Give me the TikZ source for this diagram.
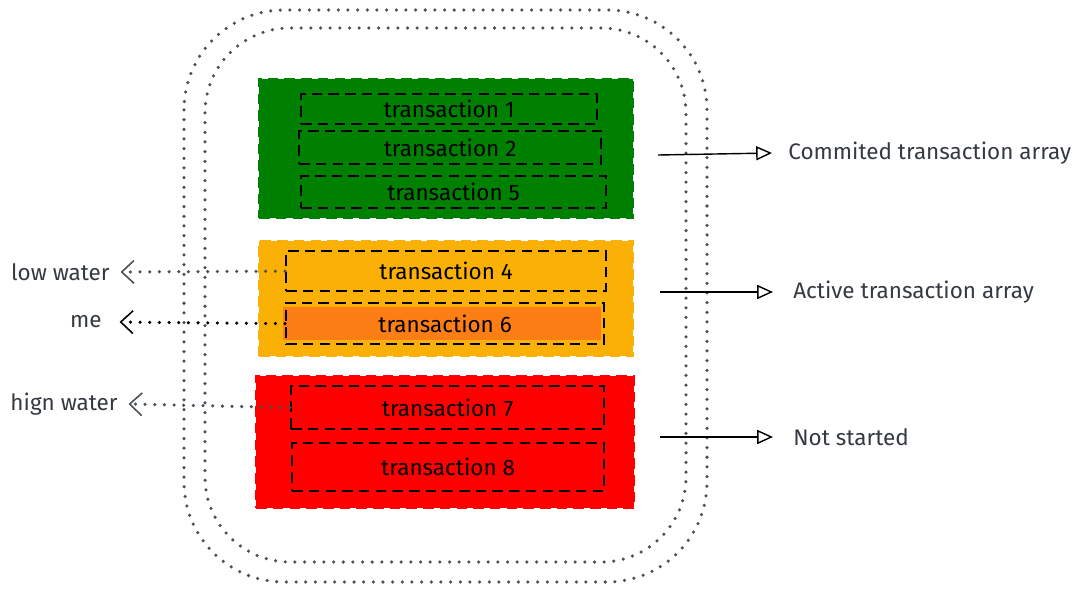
\documentclass[tikz,border=0pt]{standalone}
\usepackage{fontspec}
\setmainfont{Fira Sans}
\usetikzlibrary{arrows.meta,positioning}
\definecolor{commitG}{HTML}{008000}
\definecolor{activeY}{HTML}{FAB005}
\definecolor{meO}{HTML}{FD7E14}
\definecolor{waitR}{HTML}{FF0000}
\definecolor{bound}{HTML}{495057}
\definecolor{labtxt}{HTML}{343A40}
\begin{document}
\begin{tikzpicture}[x=0.02cm,y=-0.02cm,font=\fontsize{12.8pt}{15pt}\selectfont,
 dots/.style={line width=2pt,dash pattern=on 0pt off 5.5pt,line cap=round},
 group/.style={draw,dash pattern=on 6pt off 3.5pt,line width=1.4pt,anchor=north west,inner sep=0pt},
 txn/.style={draw=black,dash pattern=on 6pt off 3.5pt,line width=1.3pt,anchor=north west,inner sep=0pt,text=black},
 tag/.style={text=labtxt,anchor=west,inner sep=0pt},
 toarr/.style={-{Triangle[open,length=9pt,width=8pt]},thick,black},
 waterarr/.style={-{Straight Barb[length=7pt,width=13pt,line width=0.9pt]},dots}]
\useasboundingbox (0,0) rectangle (1080,592);
\draw[bound,dots,rounded corners=2cm] (184,10) rectangle (707,582);
\draw[bound,dots,rounded corners=1.7cm] (205,28) rectangle (686,562);
\node[group,draw=commitG,fill=commitG,minimum width=374*0.02cm,minimum height=139*0.02cm] (commit) at (258,78) {};
\node[group,draw=activeY,fill=activeY,minimum width=374*0.02cm,minimum height=115*0.02cm] (active) at (258,240) {};
\node[group,draw=waitR,fill=waitR,minimum width=378*0.02cm,minimum height=132*0.02cm] (wait) at (255,375) {};
\node[txn,minimum width=296*0.02cm,minimum height=30*0.02cm] (t1) at (300,93) {transaction 1};
\node[txn,minimum width=302*0.02cm,minimum height=33*0.02cm] (t2) at (298,130) {transaction 2};
\node[txn,minimum width=305*0.02cm,minimum height=32*0.02cm] (t5) at (300,175) {transaction 5};
\node[txn,minimum width=320*0.02cm,minimum height=40*0.02cm] (t4) at (285,250) {transaction 4};
\fill[meO] (283,307) rectangle (601,340);
\node[txn,minimum width=318*0.02cm,minimum height=41*0.02cm] (t6) at (285,302) {transaction 6};
\node[txn,minimum width=313*0.02cm,minimum height=43*0.02cm] (t7) at (290,385) {transaction 7};
\node[txn,minimum width=312*0.02cm,minimum height=48*0.02cm] (t8) at (291,442) {transaction 8};
\node[tag] (lcommit) at (788,153) {Commited transaction array};
\node[tag] (lactive) at (793,292) {Active transaction array};
\node[tag] (lwait) at (793,437) {Not started};
\coordinate (ocommit) at (658,155);
\coordinate (oactive) at (660,292);
\coordinate (owait) at (660,437);
\draw[toarr] (ocommit) -- ([xshift=-0.32cm]lcommit.west);
\draw[toarr] (oactive) -- ([xshift=-0.4cm]lactive.west);
\draw[toarr] (owait) -- ([xshift=-0.4cm]lwait.west);
\node[tag,anchor=east] (low) at (110,272) {low water};
\node[tag,anchor=east] (me) at (102,322) {me};
\node[tag,anchor=east] (high) at (118,404) {hign water};
\draw[waterarr,bound] (t4.west) -- ([xshift=6pt]low.east);
\draw[waterarr,black] (t6.west) -- ([xshift=10pt]me.east);
\draw[waterarr,bound] (t7.west) -- ([xshift=6pt]high.east);
\end{tikzpicture}
\end{document}
